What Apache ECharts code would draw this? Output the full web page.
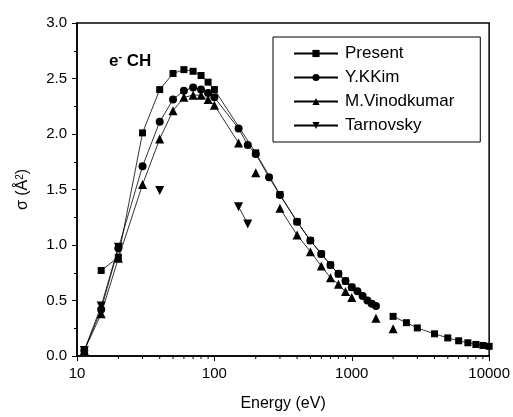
<!DOCTYPE html>
<html><head><meta charset="utf-8">
<script src="https://cdn.jsdelivr.net/npm/echarts@6/dist/echarts.min.js"></script>
<style>html,body{margin:0;padding:0;background:#fff}#c{width:513px;height:417px}</style>
</head><body><div id="c"></div>
<script>
// Energy (eV) and cross-section (Å^2); null = gap in the connecting line
const presentE = [15, 20, 30, 40, 50, 60, 70, 80, 90, 100, 200, 300, 400, 500, 600, 700, 800, 900, 1000, 1500, 2000, 2500, 3000, 4000, 5000, 6000, 7000, 8000, 9000, 10000];
const presentS = [0.77, 0.89, 2.01, 2.40, 2.545, 2.58, 2.565, 2.527, 2.467, 2.40, 1.83, 1.455, 1.21, 1.04, 0.92, 0.82, 0.74, 0.675, 0.62, null, 0.357, 0.30, 0.253, 0.20, 0.163, 0.137, 0.119, 0.104, 0.095, 0.087];

const kimE = [11.3, 15, 20, 30, 40, 50, 60, 70, 80, 90, 100, 150, 175, 200, 250, 300, 400, 500, 600, 700, 800, 900, 1000, 1100, 1200, 1300, 1400, 1500];
const kimS = [0.05, 0.42, 0.97, 1.71, 2.11, 2.31, 2.39, 2.42, 2.40, 2.37, 2.33, 2.05, 1.90, 1.82, 1.61, 1.45, 1.21, 1.04, 0.92, 0.82, 0.74, 0.676, 0.62, 0.583, 0.54, 0.50, 0.47, 0.45];

const vinodE = [11.3, 15, 20, 30, 40, 50, 60, 70, 80, 90, 100, 150, 175, 200, 250, 300, 400, 500, 600, 700, 800, 900, 1000, 1200, 1500, 1700, 2000];
const vinodS = [0.05, 0.38, 0.88, 1.545, 1.955, 2.21, 2.33, 2.35, 2.35, 2.31, 2.26, 1.92, null, 1.65, null, 1.33, 1.09, 0.94, 0.81, 0.705, 0.646, 0.58, 0.527, null, 0.34, null, 0.245];

const tarnE = [11.3, 15, 20, 30, 40, 100, 150, 175];
const tarnS = [0.05, 0.45, 0.98, null, 1.49, null, 1.345, 1.19];

const xMinorTicks = [20, 30, 40, 50, 60, 70, 80, 90, 200, 300, 400, 500, 600, 700, 800, 900, 2000, 3000, 4000, 5000, 6000, 7000, 8000, 9000];

const FONT = 'Liberation Sans, Arial, sans-serif';
function pairs(xs, ys) { return xs.map((x, i) => [x, ys[i] === null ? '-' : ys[i]]); }

const chart = echarts.init(document.getElementById('c'), null, { renderer: 'canvas' });
const lineStyle = { color: '#000', width: 0.8 };
const base = { type: 'line', showAllSymbol: true, lineStyle: lineStyle, itemStyle: { color: '#000' }, animation: false, connectNulls: false };

chart.setOption({
  animation: false,
  backgroundColor: '#fff',
  textStyle: { fontFamily: FONT, color: '#000' },
  title: {
    text: '{b|e}{s|-}{b| CH}',
    left: 104, top: 46,
    textStyle: {
      rich: {
        b: { fontSize: 17, fontWeight: 'bold', fontFamily: FONT, color: '#000', lineHeight: 20 },
        s: { fontSize: 11, fontWeight: 'bold', fontFamily: FONT, color: '#000', verticalAlign: 'top', lineHeight: 12 }
      }
    }
  },
  legend: {
    data: ['Present', 'Y.KKim', 'M.Vinodkumar', 'Tarnovsky'],
    orient: 'vertical', left: 273, top: 37,
    padding: [8, 26, 8, 20],
    itemWidth: 44, itemHeight: 9, itemGap: 7,
    borderColor: '#000', borderWidth: 1, borderRadius: 0,
    textStyle: { fontSize: 17, fontFamily: FONT, color: '#000', padding: [0, 0, 0, 2] }
  },
  grid: { left: 77, right: 23, top: 23, bottom: 58, show: true, borderColor: '#000', borderWidth: 1.5, backgroundColor: 'transparent' },
  xAxis: {
    type: 'log', logBase: 10, min: 10, max: 10000,
    name: 'Energy (eV)', nameLocation: 'middle', nameGap: 40,
    nameTextStyle: { fontSize: 16, fontFamily: FONT, color: '#000' },
    axisLine: { show: true, onZero: false, lineStyle: { color: '#000', width: 1.5 } },
    axisTick: { show: true, inside: false, length: 5, lineStyle: { color: '#000', width: 1 } },
    axisLabel: { fontSize: 15, fontFamily: FONT, color: '#000', margin: 10, formatter: v => String(Math.round(v)) },
    splitLine: { show: false }
  },
  yAxis: {
    type: 'value', min: 0, max: 3, interval: 0.5,
    name: 'σ (Å{s|2})', nameLocation: 'middle', nameGap: 46,
    nameTextStyle: { fontSize: 16, fontFamily: FONT, color: '#000', rich: { s: { fontSize: 10, fontFamily: FONT, color: '#000', verticalAlign: 'top' } } },
    axisLine: { show: true, onZero: false, lineStyle: { color: '#000', width: 1.5 } },
    axisTick: { show: true, inside: false, length: 5, lineStyle: { color: '#000', width: 1 } },
    minorTick: { show: true, splitNumber: 2, length: 3, lineStyle: { color: '#000', width: 1 } },
    axisLabel: { fontSize: 15, fontFamily: FONT, color: '#000', margin: 10, formatter: v => v.toFixed(1) },
    splitLine: { show: false }
  },
  series: [
    Object.assign({}, base, { name: 'Present', symbol: 'rect', symbolSize: 7, data: pairs(presentE, presentS), z: 5 }),
    Object.assign({}, base, { name: 'Y.KKim', symbol: 'circle', symbolSize: 8, data: pairs(kimE, kimS), z: 4 }),
    Object.assign({}, base, { name: 'M.Vinodkumar', symbol: 'triangle', symbolSize: 9, data: pairs(vinodE, vinodS), z: 3 }),
    Object.assign({}, base, { name: 'Tarnovsky', symbol: 'triangle', symbolRotate: 180, symbolSize: 9, data: pairs(tarnE, tarnS), z: 3 }),
    {
      type: 'custom', name: 'minorTicks', silent: true, clip: false, animation: false,
      data: xMinorTicks.map(v => [v, 0]),
      renderItem: function (params, api) {
        const p = api.coord([api.value(0), 0]);
        return { type: 'line', shape: { x1: p[0], y1: p[1], x2: p[0], y2: p[1] + 3 }, style: { stroke: '#000', lineWidth: 1 } };
      }
    }
  ]
});
</script></body></html>
